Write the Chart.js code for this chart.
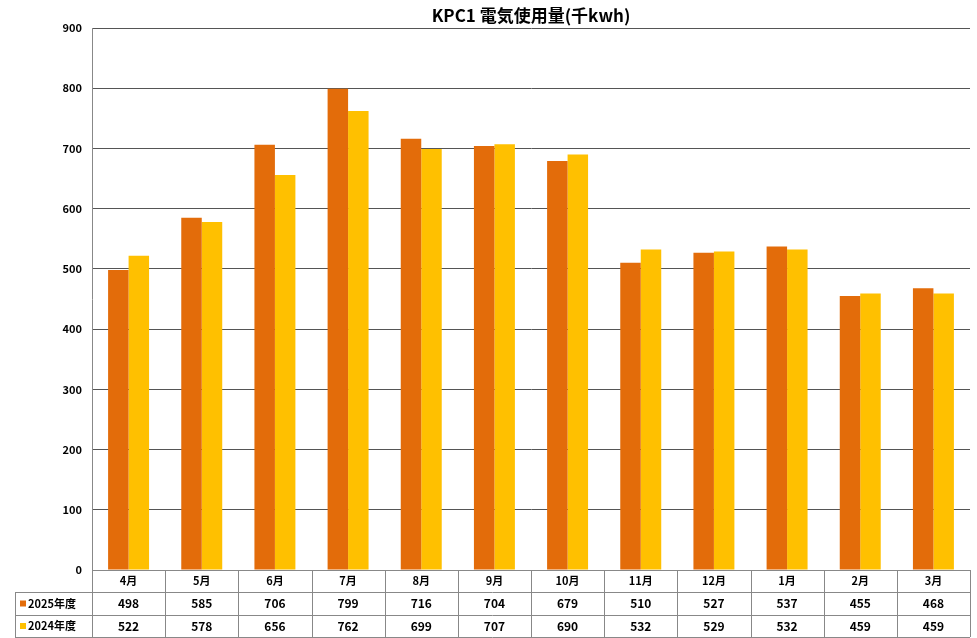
<!DOCTYPE html>
<html><head><meta charset="utf-8">
<script src="https://cdn.jsdelivr.net/npm/chart.js@4"></script>
<style>html,body{margin:0;padding:0;background:#fff}</style>
</head><body>
<canvas id="c" width="977" height="638"></canvas>
<script>
const categories = ["4月","5月","6月","7月","8月","9月","10月","11月","12月","1月","2月","3月"];
const series2025 = [498,585,706,799,716,704,679,510,527,537,455,468];
const series2024 = [522,578,656,762,699,707,690,532,529,532,459,459];
const seriesNames = ["2025年度","2024年度"];
const colors = ["#E36C0A","#FFC000"];
const titleText = "KPC1 電気使用量(千kwh)";
const FONT = "'Noto Sans CJK JP','Noto Sans',sans-serif";

const tablePlugin = {
  id:'tbl',
  afterDraw(chart){
    const ctx = chart.ctx, x = chart.scales.x, a = chart.chartArea;
    const rows = [a.bottom, a.bottom+22, a.bottom+45, a.bottom+67];
    const left0 = 15;
    ctx.save();
    // title
    ctx.fillStyle='#000'; ctx.font="bold 17px "+FONT; ctx.textAlign='center'; ctx.textBaseline='middle';
    ctx.fillText(titleText, (a.left+a.right)/2, 16);
    ctx.strokeStyle='#888'; ctx.lineWidth=1;
    ctx.beginPath();
    // horizontal lines
    ctx.moveTo(a.left, rows[0]+0.5); ctx.lineTo(a.right, rows[0]+0.5);
    for (let i=1;i<4;i++){ ctx.moveTo(left0, rows[i]+0.5); ctx.lineTo(a.right, rows[i]+0.5); }
    // vertical lines
    const n = categories.length, w = (a.right-a.left)/n;
    for (let i=0;i<=n;i++){ const xx=Math.round(a.left+i*w)+0.5; ctx.moveTo(xx, rows[0]); ctx.lineTo(xx, rows[3]); }
    ctx.moveTo(left0+0.5, rows[1]); ctx.lineTo(left0+0.5, rows[3]);
    ctx.stroke();
    ctx.fillStyle='#000'; ctx.font="bold 11px "+FONT;
    categories.forEach((c,i)=>{
      const cx = x.getPixelForValue(i);
      ctx.fillText(c, cx, (rows[0]+rows[1])/2);
      ctx.font="bold 12px "+FONT;
      ctx.fillText(String(series2025[i]), cx, (rows[1]+rows[2])/2);
      ctx.fillText(String(series2024[i]), cx, (rows[2]+rows[3])/2);
      ctx.font="bold 11px "+FONT;
    });
    ctx.textAlign='left';
    [series2025, series2024].forEach((s,k)=>{
      const cy=(rows[k+1]+rows[k+2])/2;
      ctx.fillStyle=colors[k]; ctx.fillRect(left0+5, cy-3, 6, 6);
      ctx.fillStyle='#000'; ctx.fillText(seriesNames[k], left0+13, cy);
    });
    ctx.restore();
  }
};

new Chart(document.getElementById('c'), {
  type:'bar',
  data:{labels:categories, datasets:[
    {label:seriesNames[0], data:series2025, backgroundColor:colors[0]},
    {label:seriesNames[1], data:series2024, backgroundColor:colors[1]}
  ]},
  options:{
    responsive:false, animation:false,
    layout:{padding:{top:28,right:7,bottom:68,left:0}},
    datasets:{bar:{categoryPercentage:0.56, barPercentage:1}},
    plugins:{legend:{display:false}, title:{display:false}, tooltip:{enabled:false}},
    scales:{
      x:{display:false, grid:{display:false}},
      y:{min:0,max:900, ticks:{stepSize:100, color:'#000', font:{family:FONT,size:11,weight:'bold'}, padding:10},
         grid:{color:'#555', drawTicks:false}, border:{color:'#888'},
         afterFit(s){ s.width=92; }}
    }
  },
  plugins:[tablePlugin]
});
</script>
</body></html>
